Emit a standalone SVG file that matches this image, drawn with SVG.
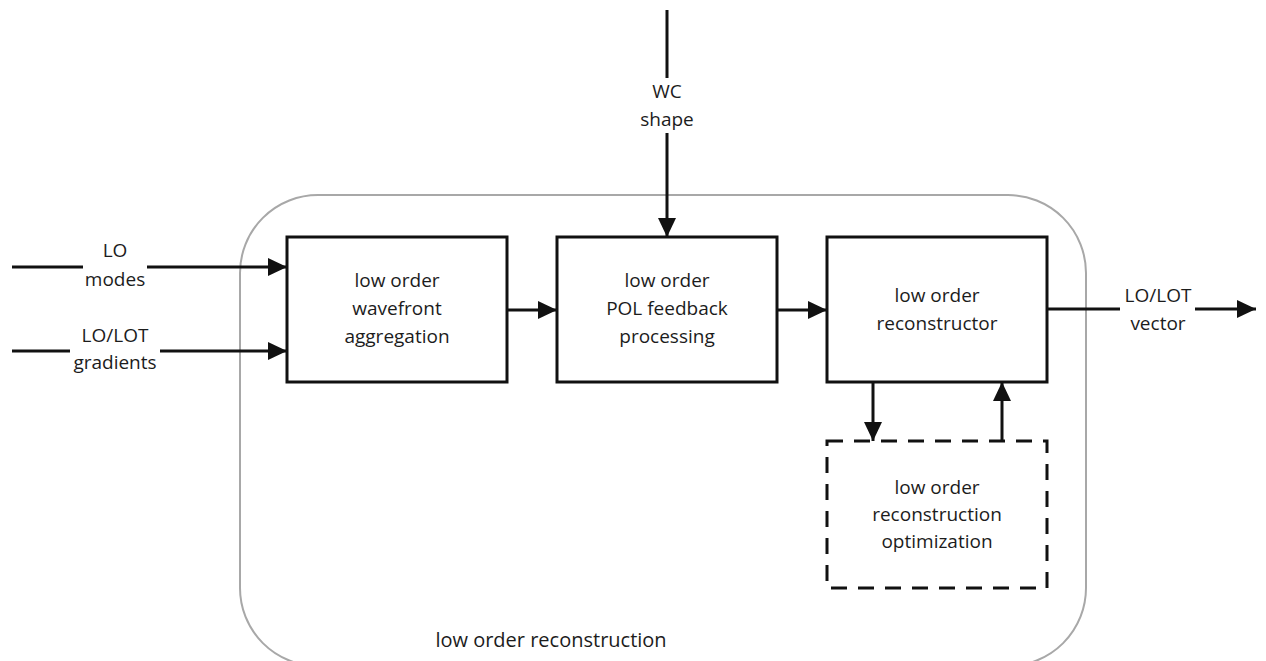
<svg xmlns="http://www.w3.org/2000/svg" width="1266" height="661" viewBox="0 0 1266 661">
  <style>
    .frame { fill: none; stroke: #a8a8a8; stroke-width: 2; }
    .box { fill: #ffffff; stroke: #111111; stroke-width: 3; }
    .dashed { fill: #ffffff; stroke: #111111; stroke-width: 3; stroke-dasharray: 16 11; }
    .wire { fill: none; stroke: #111111; stroke-width: 3; marker-end: url(#arrow); }
    text { font-family: "Open Sans", "Noto Sans", "DejaVu Sans", sans-serif; fill: #1c1c1c; text-anchor: middle; }
    .lbl { font-size: 19px; }
    .title { font-size: 20px; }
  </style>
  <defs>
    <marker id="arrow" viewBox="0 0 19 18" refX="19" refY="9" markerWidth="19" markerHeight="18" markerUnits="userSpaceOnUse" orient="auto">
      <path d="M0,0 L19,9 L0,18 Z" fill="#111111"/>
    </marker>
  </defs>

  <rect width="1266" height="661" fill="#ffffff"/>

  <!-- enclosing subsystem -->
  <g id="low-order-reconstruction">
    <rect class="frame" x="240" y="195" width="846" height="471" rx="78" ry="78"/>
    <text class="title" x="551" y="647">low order reconstruction</text>
  </g>

  <!-- processing blocks -->
  <g id="wavefront-aggregation">
    <rect class="box" x="287" y="237" width="220" height="145"/>
    <text class="lbl" x="397" y="287">low order</text>
    <text class="lbl" x="397" y="315">wavefront</text>
    <text class="lbl" x="397" y="343">aggregation</text>
  </g>

  <g id="pol-feedback-processing">
    <rect class="box" x="557" y="237" width="220" height="145"/>
    <text class="lbl" x="667" y="287">low order</text>
    <text class="lbl" x="667" y="315">POL feedback</text>
    <text class="lbl" x="667" y="343">processing</text>
  </g>

  <g id="reconstructor">
    <rect class="box" x="827" y="237" width="220" height="145"/>
    <text class="lbl" x="937" y="302">low order</text>
    <text class="lbl" x="937" y="330">reconstructor</text>
  </g>

  <g id="reconstruction-optimization">
    <rect class="dashed" x="827" y="441" width="220" height="147"/>
    <text class="lbl" x="937" y="494">low order</text>
    <text class="lbl" x="937" y="521">reconstruction</text>
    <text class="lbl" x="937" y="548">optimization</text>
  </g>

  <!-- connectors -->
  <g id="connectors">
    <path class="wire" d="M12,267 H83 M147,267 H287"/>
    <path class="wire" d="M12,351 H70 M160,351 H287"/>
    <path class="wire" d="M507,310 H557"/>
    <path class="wire" d="M777,310 H827"/>
    <path class="wire" d="M667,10 V78 M667,133 V237"/>
    <path class="wire" d="M1047,309 H1120 M1195,309 H1256"/>
    <path class="wire" d="M873,382 V441"/>
    <path class="wire" d="M1002,441 V382"/>

    <text class="lbl" x="115" y="257">LO</text>
    <text class="lbl" x="115" y="286">modes</text>
    <text class="lbl" x="115" y="342">LO/LOT</text>
    <text class="lbl" x="115" y="369">gradients</text>
    <text class="lbl" x="667" y="98">WC</text>
    <text class="lbl" x="667" y="126">shape</text>
    <text class="lbl" x="1158" y="302">LO/LOT</text>
    <text class="lbl" x="1158" y="330">vector</text>
  </g>
</svg>
